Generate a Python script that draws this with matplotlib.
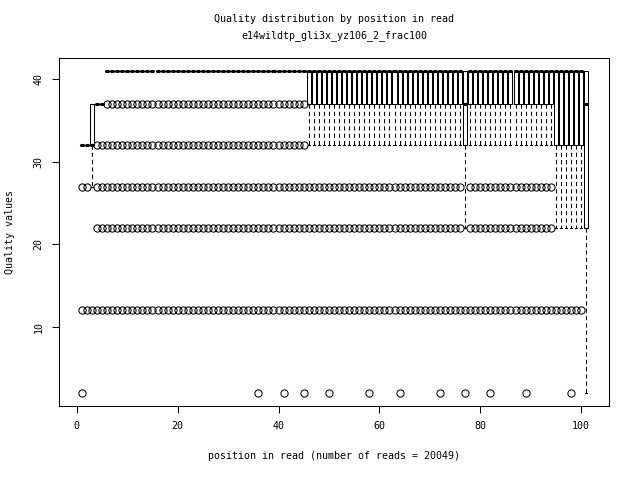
import matplotlib
matplotlib.use('Agg')
import matplotlib.pyplot as plt

# runs of read positions that share the same box stats
seg_first = [1, 3, 4, 6, 46, 77, 78, 95, 101]
seg_last = [2, 3, 5, 45, 76, 77, 94, 100, 101]
seg_q1 = [32, 32, 37, 41, 37, 32, 37, 32, 22]
seg_med = [32, 32, 37, 41, 41, 37, 41, 41, 37]
seg_q3 = [32, 37, 37, 41, 41, 41, 41, 41, 41]
seg_lo = [32, 27, 37, 41, 32, 22, 32, 22, 2]
seg_hi = [32, 37, 37, 41, 41, 41, 41, 41, 41]
seg_out = [[27, 12], [12], [32, 27, 22, 12], [37, 32, 27, 22, 12],
           [27, 22, 12], [12], [27, 22, 12], [12], []]
# positions with an extra outlier at quality 2
low_pos = [1, 36, 41, 45, 50, 58, 64, 72, 77, 82, 89, 98]
low_val = 2

title1 = 'Quality distribution by position in read'
title2 = 'e14wildtp_gli3x_yz106_2_frac100'
xlab = 'position in read (number of reads = 20049)'
ylab = 'Quality values'

plt.rcParams['font.family'] = 'DejaVu Sans Mono'
plt.rcParams['font.size'] = 7.2

stats = []
positions = []
for k in range(len(seg_first)):
    for p in range(seg_first[k], seg_last[k] + 1):
        fl = list(seg_out[k])
        if p in low_pos:
            fl.append(low_val)
        stats.append({'med': seg_med[k], 'q1': seg_q1[k], 'q3': seg_q3[k],
                      'whislo': seg_lo[k], 'whishi': seg_hi[k], 'fliers': fl})
        positions.append(p)

fig = plt.figure(figsize=(6.4, 4.8), dpi=100)
ax = fig.add_axes([59 / 640, 1 - 406 / 480, 550 / 640, 348 / 480])

ax.bxp(stats, positions=positions, widths=0.8, capwidths=0.4,
       manage_ticks=False,
       boxprops=dict(color='black', linewidth=0.75),
       medianprops=dict(color='black', linewidth=2.2, solid_capstyle='butt'),
       whiskerprops=dict(color='black', linewidth=0.75, linestyle=(0, (4, 3))),
       capprops=dict(color='black', linewidth=0.75),
       flierprops=dict(marker='o', markerfacecolor='none', markeredgecolor='black',
                       markersize=5.2, markeredgewidth=0.75, linestyle='none'))

ax.set_xlim(-3.54, 105.54)
ax.set_ylim(0.44, 42.56)
ax.set_xticks([0, 20, 40, 60, 80, 100])
ax.set_yticks([10, 20, 30, 40])
ax.set_yticklabels(['10', '20', '30', '40'], rotation=90, va='center')
ax.tick_params(direction='out', length=5, width=0.75, pad=6, labelsize=7.2)
for s in ax.spines.values():
    s.set_linewidth(0.75)

cx = 334 / 640
fig.text(cx, 1 - 19 / 480, title1, ha='center', va='center', fontsize=7.2)
fig.text(cx, 1 - 36 / 480, title2, ha='center', va='center', fontsize=7.2)
fig.text(cx, 1 - 456 / 480, xlab, ha='center', va='center', fontsize=7.2)
fig.text(10 / 640, 1 - 232 / 480, ylab, ha='center', va='center', rotation=90, fontsize=7.2)

fig.savefig('out.png', dpi=100)
